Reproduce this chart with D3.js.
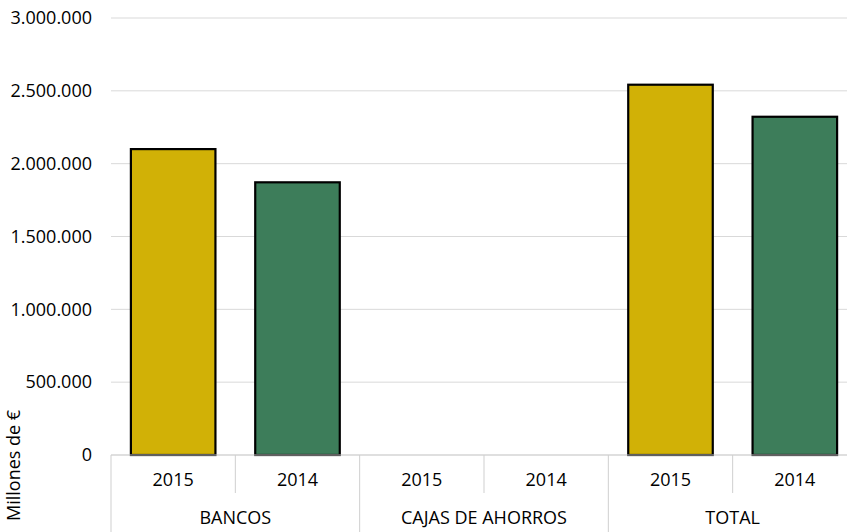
<!DOCTYPE html>
<html>
<head>
<meta charset="utf-8">
<script src="https://cdn.jsdelivr.net/npm/d3@7"></script>
<style>
  body { margin: 0; background: #fff; }
  svg text { font-family: "Open Sans", "Noto Sans", sans-serif; fill: #000; }
</style>
</head>
<body>
<svg width="847" height="532"></svg>
<script>
// chart data
var groups = ["BANCOS", "CAJAS DE AHORROS", "TOTAL"];
var years = ["2015", "2014"];
var bancos = [2100000, 1872000];
var cajas = [0, 0];
var total = [2542000, 2322000];
var yTicks = [0, 500000, 1000000, 1500000, 2000000, 2500000, 3000000];
var colors = ["#d1b106", "#3d7d5a"];

var rows = [];
[bancos, cajas, total].forEach(function(vals, gi) {
  years.forEach(function(yr, yi) {
    rows.push({ group: groups[gi], year: yr, idx: yi, value: vals[yi], key: groups[gi] + "|" + yr });
  });
});

var svg = d3.select("svg");
var margin = {top: 18, left: 111, bottom: 77};
var height = 532 - margin.top - margin.bottom;
var plotWidth = 746; // plot runs past the right edge like the original

var g = svg.append("g").attr("transform", "translate(" + margin.left + "," + margin.top + ")");

var x = d3.scaleBand().domain(rows.map(function(d) { return d.key; }))
  .range([0, plotWidth]).paddingInner(0.32).paddingOuter(0.16);
var slot = d3.scaleBand().domain(rows.map(function(d) { return d.key; })).range([0, plotWidth]);
var y = d3.scaleLinear().domain([0, 3000000]).range([height, 0]);

var fmt = function(v) { return d3.format(",")(v).replace(/,/g, "."); };

// gridlines
g.selectAll(".grid").data(yTicks.slice(1)).enter().append("line")
  .attr("x1", 0).attr("x2", 847)
  .attr("y1", function(d) { return y(d); }).attr("y2", function(d) { return y(d); })
  .attr("stroke", "#d9d9d9").attr("stroke-width", 1);

// y labels
g.selectAll(".ylab").data(yTicks).enter().append("text")
  .attr("x", -19).attr("y", function(d) { return y(d); })
  .attr("dy", "0.35em").attr("text-anchor", "end")
  .style("font-size", "18px")
  .text(fmt);

svg.append("text")
  .attr("transform", "translate(20,521) rotate(-90)")
  .attr("text-anchor", "start")
  .style("font-size", "18px")
  .text("Millones de €");

// bars
g.selectAll(".bar").data(rows).enter().append("rect")
  .attr("x", function(d) { return x(d.key); })
  .attr("width", x.bandwidth())
  .attr("y", function(d) { return y(d.value); })
  .attr("height", function(d) { return height - y(d.value); })
  .attr("fill", function(d) { return colors[d.idx]; })
  .attr("stroke", function(d) { return d.value > 0 ? "#000" : "none"; })
  .attr("stroke-width", 2.2);

// x axis
var axis = g.append("g").attr("transform", "translate(0," + height + ")");
axis.append("line").attr("x1", 0).attr("x2", 847).attr("y1", 0).attr("y2", 0)
  .attr("stroke", "#bfbfbf");

rows.forEach(function(d, i) {
  var x0 = slot(d.key);
  var full = d.idx === 0;
  axis.append("line").attr("x1", x0).attr("x2", x0)
    .attr("y1", 0).attr("y2", full ? 80 : 38)
    .attr("stroke", "#cfcfcf");
  axis.append("text")
    .attr("x", x0 + slot.bandwidth() / 2).attr("y", 25)
    .attr("dy", "0.35em").attr("text-anchor", "middle")
    .style("font-size", "18px")
    .text(d.year);
});

groups.forEach(function(gr) {
  var x0 = slot(gr + "|2015");
  axis.append("text")
    .attr("x", x0 + slot.bandwidth()).attr("y", 63)
    .attr("dy", "0.35em").attr("text-anchor", "middle")
    .style("font-size", "18px")
    .text(gr);
});
</script>
</body>
</html>
